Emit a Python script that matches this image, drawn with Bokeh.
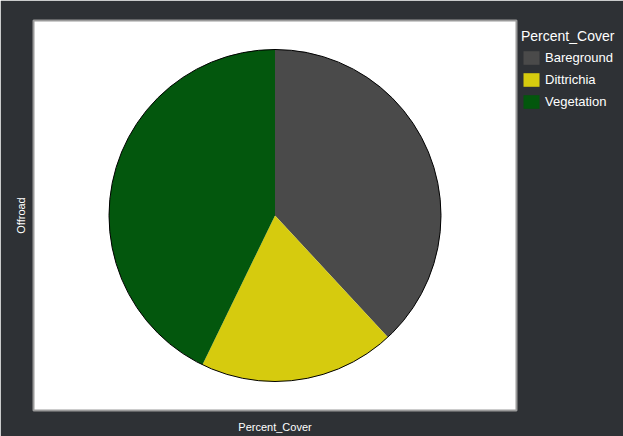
import math
from bokeh.plotting import figure
from bokeh.models import Range1d, Legend, LegendItem, FixedTicker, ColumnDataSource
from bokeh.embed import file_html
from bokeh.resources import INLINE

categories = ["Bareground", "Dittrichia", "Vegetation"]
values = [38.1, 19.1, 42.8]
colors = ["#4a4a4a", "#d6cb0e", "#03570d"]

total = sum(values)
starts, ends = [], []
cum = 0.0
for v in values:
    starts.append(math.pi / 2 - cum / total * 2 * math.pi)
    cum += v
    ends.append(math.pi / 2 - cum / total * 2 * math.pi)

src = ColumnDataSource(dict(cat=categories, val=values, start=starts, end=ends, color=colors,
                            x=[0] * 3, y=[0] * 3))

BG = "#2e3135"
p = figure(frame_width=483, frame_height=390, output_backend="svg", toolbar_location=None,
           x_range=Range1d(-241.5, 241.5), y_range=Range1d(-195, 195),
           min_border_left=33, min_border_right=0, min_border_top=20, min_border_bottom=26)
p.background_fill_color = "white"
p.border_fill_color = BG
p.outline_line_color = "#9a9a9a"
p.outline_line_width = 2
p.grid.visible = False

r = p.wedge(x="x", y="y", radius=166, start_angle="start", end_angle="end", direction="clock",
            fill_color="color", line_color=None, source=src)
p.circle(x=0, y=0, radius=166, fill_color=None, line_color="black", line_width=1)

for ax in (p.xaxis[0], p.yaxis[0]):
    ax.ticker = FixedTicker(ticks=[])
    ax.axis_line_color = None
    ax.major_tick_line_color = None
    ax.minor_tick_line_color = None
    ax.major_label_text_font_size = "0px"
    ax.axis_label_text_color = "white"
    ax.axis_label_text_font = "Liberation Sans"
    ax.axis_label_text_font_size = "11px"
    ax.axis_label_text_font_style = "normal"
p.xaxis.axis_label = "Percent_Cover"
p.yaxis.axis_label = "Offroad"
p.xaxis.axis_label_standoff = 10
p.yaxis.axis_label_standoff = 7

items = [LegendItem(label=c, renderers=[r], index=i) for i, c in enumerate(categories)]
legend = Legend(items=items, title="Percent_Cover", location=(5, 300),
                background_fill_alpha=0, border_line_color=None,
                label_text_color="white", title_text_color="white",
                label_text_font="Liberation Sans", title_text_font="Liberation Sans",
                label_text_font_size="13px", title_text_font_size="14px",
                title_text_font_style="normal",
                glyph_width=20, glyph_height=17, label_standoff=4, spacing=5,
                padding=2, margin=0, title_standoff=5, label_height=17)
p.add_layout(legend, "right")

open("out.html", "w").write(file_html(p, INLINE))
